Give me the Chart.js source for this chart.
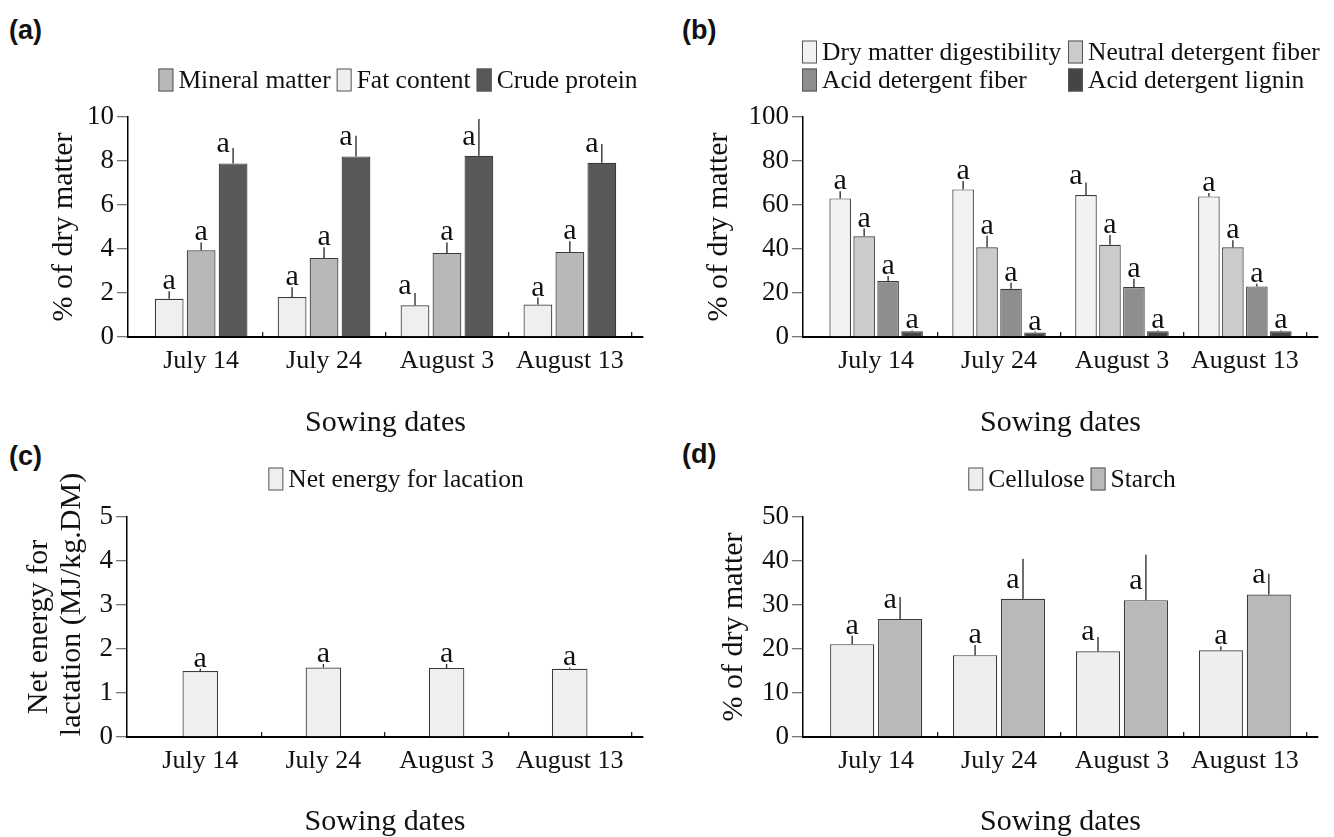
<!DOCTYPE html>
<html>
<head>
<meta charset="utf-8">
<script src="https://cdn.jsdelivr.net/npm/chart.js@4.4.1/dist/chart.umd.min.js"></script>
<style>
  body { margin: 0; background: #fff; width: 1334px; height: 837px; overflow: hidden; position: relative; }
  canvas { position: absolute; }
  .tag { position: absolute; font: bold 27px "Liberation Sans", Arial, sans-serif; line-height: 27px; color: #111; }
</style>
</head>
<body>
<div class="tag" style="left:9px;top:17px">(a)</div>
<div class="tag" style="left:682px;top:17px">(b)</div>
<div class="tag" style="left:9px;top:443px">(c)</div>
<div class="tag" style="left:682px;top:441px">(d)</div>
<canvas id="chartA" width="667" height="440" style="left:0;top:0"></canvas>
<canvas id="chartB" width="667" height="440" style="left:667px;top:0"></canvas>
<canvas id="chartC" width="667" height="397" style="left:0;top:440px"></canvas>
<canvas id="chartD" width="667" height="397" style="left:667px;top:440px"></canvas>
<script>
const sowingDates = ['July 14', 'July 24', 'August 3', 'August 13'];
const sigLetters = ['a', 'a', 'a', 'a'];

// (a) mineral matter, fat, crude protein
const fatContent = [1.74, 1.82, 1.44, 1.48];
const fatContentErr = [0.34, 0.44, 0.56, 0.31];
const mineralMatter = [3.94, 3.59, 3.82, 3.86];
const mineralMatterErr = [0.36, 0.49, 0.48, 0.49];
const crudeProtein = [7.89, 8.21, 8.24, 7.92];
const crudeProteinErr = [0.70, 0.94, 1.67, 0.85];

// (b) digestibility and fibers
const dmDigestibility = [63.0, 67.1, 64.5, 63.9];
const dmDigestibilityErr = [3.2, 3.8, 5.7, 1.5];
const ndf = [45.8, 40.8, 41.9, 40.8];
const ndfErr = [3.5, 5.2, 4.5, 3.2];
const adf = [25.4, 21.9, 22.7, 23.0];
const adfErr = [2.3, 2.8, 3.8, 1.2];
const adl = [2.6, 2.1, 2.6, 2.6];
const adlErr = [0.4, 0.4, 0.4, 0.4];

// (c) net energy for lactation
const nel = [1.50, 1.58, 1.57, 1.55];
const nelErr = [0.05, 0.08, 0.09, 0.03];

// (d) cellulose and starch
const cellulose = [21.1, 18.6, 19.5, 19.7];
const celluloseErr = [1.9, 2.3, 3.2, 0.9];
const starch = [26.8, 31.4, 31.1, 32.4];
const starchErr = [5.0, 9.1, 10.3, 4.7];

// y axes: [max, step]
const yAxisA = [10, 2];
const yAxisB = [100, 20];
const yAxisC = [5, 1];
const yAxisD = [50, 10];

const serif = '"Liberation Serif", "Times New Roman", serif';
Chart.defaults.font.family = serif;
Chart.defaults.color = '#111';

// vertical error line + letter above each bar
const errorBars = {
  id: 'errorBars',
  afterDatasetsDraw(chart) {
    const ctx = chart.ctx;
    const y = chart.scales.y;
    ctx.save();
    chart.data.datasets.forEach((ds, i) => {
      chart.getDatasetMeta(i).data.forEach((bar, j) => {
        const top = y.getPixelForValue(ds.data[j] + ds.err[j]);
        ctx.strokeStyle = '#222';
        ctx.lineWidth = 1.3;
        ctx.beginPath();
        ctx.moveTo(bar.x, bar.y);
        ctx.lineTo(bar.x, top);
        ctx.stroke();
        const beside = top < bar.y - 12;
        const base = beside ? bar.y - 11 : top - 2;
        ctx.font = '30px ' + serif;
        ctx.fillStyle = '#111';
        ctx.textAlign = 'center';
        ctx.textBaseline = 'alphabetic';
        ctx.fillText(sigLetters[j], beside ? bar.x - 10 : bar.x, base);
      });
    });
    ctx.restore();
  }
};

// legend with tall boxes, rows or fixed columns
const boxLegend = {
  id: 'boxLegend',
  afterDraw(chart, args, opts) {
    const ctx = chart.ctx;
    const dsets = chart.data.datasets;
    ctx.save();
    ctx.font = '25.5px ' + serif;
    ctx.textBaseline = 'middle';
    ctx.textAlign = 'left';
    opts.rows.forEach((row, r) => {
      const y = opts.ys[r];
      let x = 0;
      if (!opts.cols) {
        const total = row.reduce((s, i) => s + 20 + ctx.measureText(dsets[i].label).width, 0) + 6 * (row.length - 1);
        x = opts.cx - total / 2;
      }
      row.forEach((i, k) => {
        if (opts.cols) x = opts.cols[k];
        ctx.fillStyle = dsets[i].backgroundColor;
        ctx.fillRect(x, y - 11.5, 15, 23);
        ctx.strokeStyle = '#555';
        ctx.lineWidth = 1;
        ctx.strokeRect(x + 0.5, y - 11, 14, 22);
        ctx.fillStyle = '#111';
        ctx.fillText(dsets[i].label, x + 20, y + 1);
        x += 20 + ctx.measureText(dsets[i].label).width + 6;
      });
    });
    ctx.restore();
  }
};

function bars(label, data, err, color) {
  return {
    label: label, data: data, err: err,
    backgroundColor: color, borderColor: '#3a3a3a', borderWidth: 1.2, borderSkipped: 'bottom'
  };
}

function makeChart(id, p) {
  const cv = document.getElementById(id);
  const W = cv.width, H = cv.height;
  return new Chart(cv, {
    type: 'bar',
    data: { labels: sowingDates, datasets: p.datasets },
    plugins: [errorBars, boxLegend],
    options: {
      responsive: false,
      animation: false,
      events: [],
      devicePixelRatio: 1,
      layout: { padding: { top: p.area[2], right: W - p.area[1], left: 0, bottom: 0 } },
      datasets: { bar: { categoryPercentage: 0.78, barPercentage: p.barPct } },
      plugins: {
        legend: { display: false },
        tooltip: { enabled: false },
        boxLegend: p.legend
      },
      scales: {
        x: {
          afterBuildTicks: s => { s._startValue -= 0.095; s._valueRange += 0.19; },
          afterFit: s => { s.height = H - p.area[3]; },
          border: { color: '#000', width: 2 },
          grid: {
            offset: true, drawOnChartArea: false, tickLength: -5, lineWidth: 1.3,
            color: c => c.index === 0 ? 'rgba(0,0,0,0)' : '#222'
          },
          ticks: { font: { size: 26 }, padding: 14, autoSkip: false, maxRotation: 0 },
          title: {
            display: true, text: 'Sowing dates',
            font: { size: 30, lineHeight: 1 }, padding: { top: 0, bottom: p.xTitlePad }
          }
        },
        y: {
          min: 0, max: p.yAxis[0],
          afterFit: s => { s.width = p.area[0]; },
          border: { color: '#000', width: 1.5 },
          grid: { drawOnChartArea: false, tickLength: 11, color: '#777', lineWidth: 1.3 },
          ticks: { stepSize: p.yAxis[1], font: { size: 27 }, padding: 3 },
          title: {
            display: true, text: p.yTitle,
            font: { size: 30, lineHeight: 1.1 }, padding: { top: p.yTitlePad, bottom: 0 }
          }
        }
      }
    }
  });
}

makeChart('chartA', {
  datasets: [
    bars('Fat content', fatContent, fatContentErr, '#efefef'),
    bars('Mineral matter', mineralMatter, mineralMatterErr, '#b8b8b8'),
    bars('Crude protein', crudeProtein, crudeProteinErr, '#585858')
  ],
  area: [128, 643, 117, 337],
  barPct: 0.9,
  yAxis: yAxisA,
  yTitle: '% of dry matter',
  yTitlePad: 48,
  xTitlePad: 2,
  legend: { rows: [[1, 0, 2]], ys: [80], cx: 398 }
});

makeChart('chartB', {
  datasets: [
    bars('Dry matter digestibility', dmDigestibility, dmDigestibilityErr, '#f2f2f2'),
    bars('Neutral detergent fiber', ndf, ndfErr, '#cbcbcb'),
    bars('Acid detergent fiber', adf, adfErr, '#8e8e8e'),
    bars('Acid detergent lignin', adl, adlErr, '#454545')
  ],
  area: [136, 651, 117, 337],
  barPct: 0.9,
  yAxis: yAxisB,
  yTitle: '% of dry matter',
  yTitlePad: 36,
  xTitlePad: 2,
  legend: { rows: [[0, 1], [2, 3]], ys: [52, 80], cols: [135, 401] }
});

makeChart('chartC', {
  datasets: [
    bars('Net energy for lacation', nel, nelErr, '#efefef')
  ],
  area: [127, 643, 77, 297],
  barPct: 0.37,
  yAxis: yAxisC,
  // leading spaces lift the second line, as in the original figure
  yTitle: ['Net energy for', '      lactation (MJ/kg.DM)'],
  yTitlePad: 23,
  xTitlePad: 0,
  legend: { rows: [[0]], ys: [39], cx: 396 }
});

makeChart('chartD', {
  datasets: [
    bars('Cellulose', cellulose, celluloseErr, '#eeeeee'),
    bars('Starch', starch, starchErr, '#b9b9b9')
  ],
  area: [136, 651, 77, 297],
  barPct: 0.92,
  yAxis: yAxisD,
  yTitle: '% of dry matter',
  yTitlePad: 51,
  xTitlePad: 0,
  legend: { rows: [[0, 1]], ys: [39], cx: 405 }
});
</script>
</body>
</html>
